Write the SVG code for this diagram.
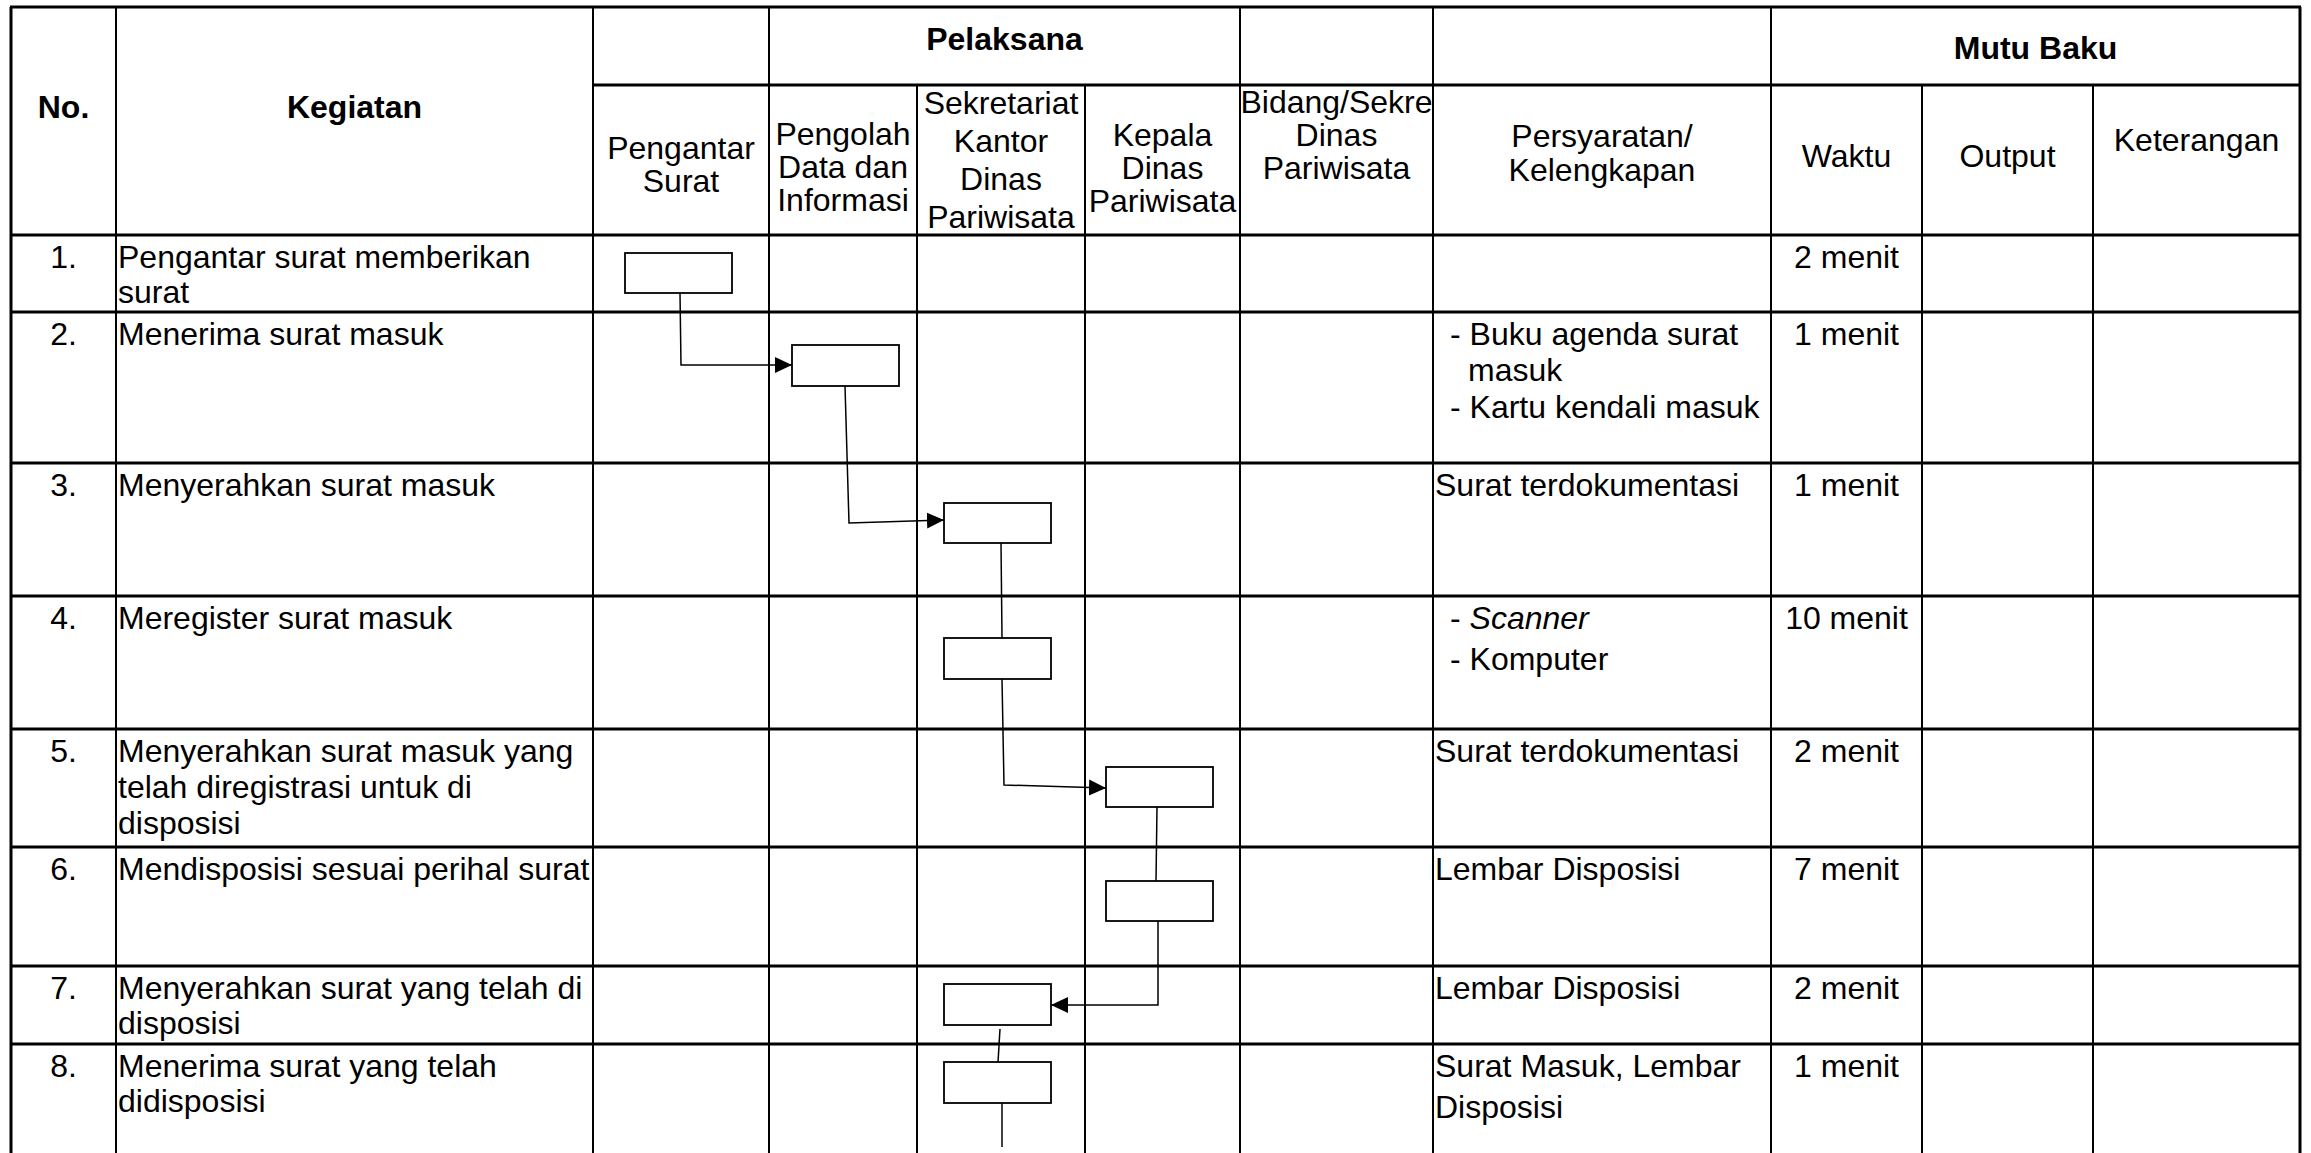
<svg xmlns="http://www.w3.org/2000/svg" width="2311" height="1153" viewBox="0 0 2311 1153">
<style>
.t{font-family:'Liberation Sans',Arial,sans-serif;font-size:32px;fill:#000}
.b{font-weight:bold}
.c{text-anchor:middle}
.h{stroke:#000;stroke-width:3}
.v{stroke:#000;stroke-width:2}
.box{fill:#fff;stroke:#000;stroke-width:1.8}
.con{fill:none;stroke:#000;stroke-width:1.5}
</style>
<defs>
<marker id="arr" markerUnits="userSpaceOnUse" markerWidth="17" markerHeight="17" refX="17" refY="8.5" orient="auto"><path d="M0,0.5 L17,8.5 L0,16.5 z" fill="#000"/></marker>
</defs>
<rect width="2311" height="1153" fill="#fff"/>
<g id="grid">
<line class="h" x1="10" y1="7" x2="2301" y2="7"/>
<line class="h" x1="593" y1="85" x2="2301" y2="85"/>
<line class="h" x1="10" y1="235" x2="2301" y2="235"/>
<line class="h" x1="10" y1="312" x2="2301" y2="312"/>
<line class="h" x1="10" y1="463" x2="2301" y2="463"/>
<line class="h" x1="10" y1="596" x2="2301" y2="596"/>
<line class="h" x1="10" y1="729" x2="2301" y2="729"/>
<line class="h" x1="10" y1="847" x2="2301" y2="847"/>
<line class="h" x1="10" y1="966" x2="2301" y2="966"/>
<line class="h" x1="10" y1="1044" x2="2301" y2="1044"/>
<line class="h" x1="11" y1="7" x2="11" y2="1153"/>
<line class="v" x1="116" y1="7" x2="116" y2="1153"/>
<line class="v" x1="593" y1="7" x2="593" y2="1153"/>
<line class="v" x1="769" y1="7" x2="769" y2="1153"/>
<line class="v" x1="917" y1="85" x2="917" y2="1153"/>
<line class="v" x1="1085" y1="85" x2="1085" y2="1153"/>
<line class="v" x1="1240" y1="7" x2="1240" y2="1153"/>
<line class="v" x1="1433" y1="7" x2="1433" y2="1153"/>
<line class="v" x1="1771" y1="7" x2="1771" y2="1153"/>
<line class="v" x1="1922" y1="85" x2="1922" y2="1153"/>
<line class="v" x1="2093" y1="85" x2="2093" y2="1153"/>
<line class="h" x1="2300" y1="7" x2="2300" y2="1153"/>
</g>
<g id="header">
<text class="t b c" x="63.5" y="118">No.</text>
<text class="t b c" x="354.5" y="118">Kegiatan</text>
<text class="t b c" x="1004.5" y="50">Pelaksana</text>
<text class="t b c" x="2035.5" y="59">Mutu Baku</text>
<text class="t c" x="681" y="159">Pengantar<tspan x="681" dy="33">Surat</tspan></text>
<text class="t c" x="843" y="145">Pengolah<tspan x="843" dy="33">Data dan</tspan><tspan x="843" dy="33">Informasi</tspan></text>
<text class="t c" x="1001" y="114">Sekretariat<tspan x="1001" dy="38">Kantor</tspan><tspan x="1001" dy="38">Dinas</tspan><tspan x="1001" dy="38">Pariwisata</tspan></text>
<text class="t c" x="1162.5" y="146">Kepala<tspan x="1162.5" dy="33">Dinas</tspan><tspan x="1162.5" dy="33">Pariwisata</tspan></text>
<text class="t c" x="1336.5" y="113">Bidang/Sekre<tspan x="1336.5" dy="33">Dinas</tspan><tspan x="1336.5" dy="33">Pariwisata</tspan></text>
<text class="t c" x="1602" y="147">Persyaratan/<tspan x="1602" dy="34">Kelengkapan</tspan></text>
<text class="t c" x="1846.5" y="167">Waktu</text>
<text class="t c" x="2007.5" y="167">Output</text>
<text class="t c" x="2196.5" y="151">Keterangan</text>
</g>
<g id="col-no">
<text class="t c" x="63.5" y="268">1.</text>
<text class="t c" x="63.5" y="345">2.</text>
<text class="t c" x="63.5" y="496">3.</text>
<text class="t c" x="63.5" y="629">4.</text>
<text class="t c" x="63.5" y="762">5.</text>
<text class="t c" x="63.5" y="880">6.</text>
<text class="t c" x="63.5" y="999">7.</text>
<text class="t c" x="63.5" y="1077">8.</text>
</g>
<g id="col-kegiatan">
<text class="t" x="118" y="268">Pengantar surat memberikan<tspan x="118" dy="35">surat</tspan></text>
<text class="t" x="118" y="345">Menerima surat masuk</text>
<text class="t" x="118" y="496">Menyerahkan surat masuk</text>
<text class="t" x="118" y="629">Meregister surat masuk</text>
<text class="t" x="118" y="762">Menyerahkan surat masuk yang<tspan x="118" dy="36">telah diregistrasi untuk di</tspan><tspan x="118" dy="36">disposisi</tspan></text>
<text class="t" x="118" y="880">Mendisposisi sesuai perihal surat</text>
<text class="t" x="118" y="999">Menyerahkan surat yang telah di<tspan x="118" dy="35">disposisi</tspan></text>
<text class="t" x="118" y="1077">Menerima surat yang telah<tspan x="118" dy="35">didisposisi</tspan></text>
</g>
<g id="col-persyaratan">
<text class="t" x="1450" y="345">- Buku agenda surat</text>
<text class="t" x="1468" y="381">masuk</text>
<text class="t" x="1450" y="418">- Kartu kendali masuk</text>
<text class="t" x="1435" y="496">Surat terdokumentasi</text>
<text class="t" x="1450" y="629">- <tspan font-style="italic">Scanner</tspan></text>
<text class="t" x="1450" y="670">- Komputer</text>
<text class="t" x="1435" y="762">Surat terdokumentasi</text>
<text class="t" x="1435" y="880">Lembar Disposisi</text>
<text class="t" x="1435" y="999">Lembar Disposisi</text>
<text class="t" x="1435" y="1077">Surat Masuk, Lembar<tspan x="1435" dy="41">Disposisi</tspan></text>
</g>
<g id="col-waktu">
<text class="t c" x="1846.5" y="268">2 menit</text>
<text class="t c" x="1846.5" y="345">1 menit</text>
<text class="t c" x="1846.5" y="496">1 menit</text>
<text class="t c" x="1846.5" y="629">10 menit</text>
<text class="t c" x="1846.5" y="762">2 menit</text>
<text class="t c" x="1846.5" y="880">7 menit</text>
<text class="t c" x="1846.5" y="999">2 menit</text>
<text class="t c" x="1846.5" y="1077">1 menit</text>
</g>
<g id="connectors">
<path class="con" d="M680 293 L681 365 L792 365" marker-end="url(#arr)"/>
<path class="con" d="M845 386 L849 523 L944 520" marker-end="url(#arr)"/>
<path class="con" d="M1001 543 L1002 638"/>
<path class="con" d="M1002 679 L1004 785 L1106 788" marker-end="url(#arr)"/>
<path class="con" d="M1157 807 L1156 881"/>
<path class="con" d="M1158 921 L1158 1005 L1051 1005" marker-end="url(#arr)"/>
<path class="con" d="M1000 1029 L998 1062"/>
<path class="con" d="M1002 1103 L1002 1147"/>
</g>
<g id="node-1"><rect class="box" x="625" y="253" width="107" height="40"/></g>
<g id="node-2"><rect class="box" x="792" y="345" width="107" height="41"/></g>
<g id="node-3"><rect class="box" x="944" y="503" width="107" height="40"/></g>
<g id="node-4"><rect class="box" x="944" y="638" width="107" height="41"/></g>
<g id="node-5"><rect class="box" x="1106" y="767" width="107" height="40"/></g>
<g id="node-6"><rect class="box" x="1106" y="881" width="107" height="40"/></g>
<g id="node-7"><rect class="box" x="944" y="984" width="107" height="41"/></g>
<g id="node-8"><rect class="box" x="944" y="1062" width="107" height="41"/></g>
</svg>
